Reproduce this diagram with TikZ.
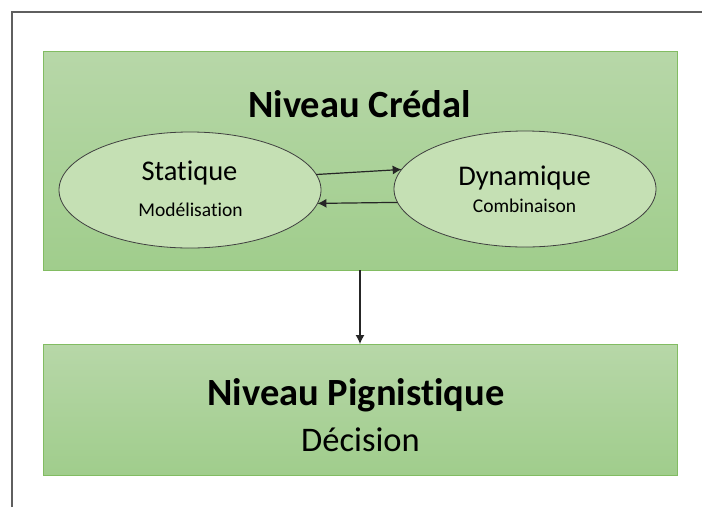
\documentclass[tikz,border=0pt]{standalone}
\usepackage{fontspec}
\setmainfont[Ligatures=NoCommon]{Carlito}
\usetikzlibrary{arrows.meta,shapes.geometric}
\definecolor{cadrevert}{RGB}{130,188,98}
\definecolor{vertclair}{RGB}{183,215,168}
\definecolor{vertfonce}{RGB}{160,205,140}
\definecolor{ellvert}{RGB}{197,224,180}
\definecolor{cadregris}{RGB}{95,95,95}
\tikzset{>={Latex[length=9pt,width=9pt]},
    niveau/.style={draw=cadrevert, line width=1, top color=vertclair, bottom color=vertfonce, minimum width=634, inner sep=0, outer sep=0},
    etat/.style={ellipse, draw=black!75, line width=0.8, fill=ellvert, minimum width=262, minimum height=116, inner sep=0, outer sep=0},
    fleche/.style={->, line width=1.2, black!85},
    titre/.style={anchor=base, font=\bfseries\fontsize{38.5}{46}\selectfont},
    grand/.style={anchor=base, font=\fontsize{28.5}{34}\selectfont},
    petit/.style={anchor=base, font=\fontsize{19.5}{23}\selectfont}}

\begin{document}
\begin{tikzpicture}[x=1pt, y=-1pt]
    \useasboundingbox (0,0) rectangle (702,507);
    \draw[cadregris, line width=2] (12,507) -- (12,12) -- (702,12);

    \node[niveau, minimum height=219] (credal) at (360,160.5) {};
    \node[niveau, minimum height=131] (pign) at (360,409.5) {};
    \node[etat] (sta) at (190,190) {};
    \node[etat] (dyn) at (525,189) {};

    \node[titre] (tcredal) at (359.5,117) {Niveau Crédal};
    \node[grand] (tsta) at (189.5,180) {Statique};
    \node[petit] (tmod) at (190.5,216) {Modélisation};
    \node[grand] (tdyn) at (524.5,185) {Dynamique};
    \node[petit] (tcomb) at (524.5,212) {Combinaison};
    \node[titre] (tpign) at (356,405) {Niveau Pignistique};
    \node[grand, font=\fontsize{34.5}{40}\selectfont] (tdec) at (360.5,451) {Décision};

    \draw[fleche] (sta.7.7) -- (dyn.171.9);
    \draw[fleche] (dyn.186.7) -- (sta.-6.3);
    \draw[fleche] (credal.south) -- (pign.north);
\end{tikzpicture}
\end{document}
